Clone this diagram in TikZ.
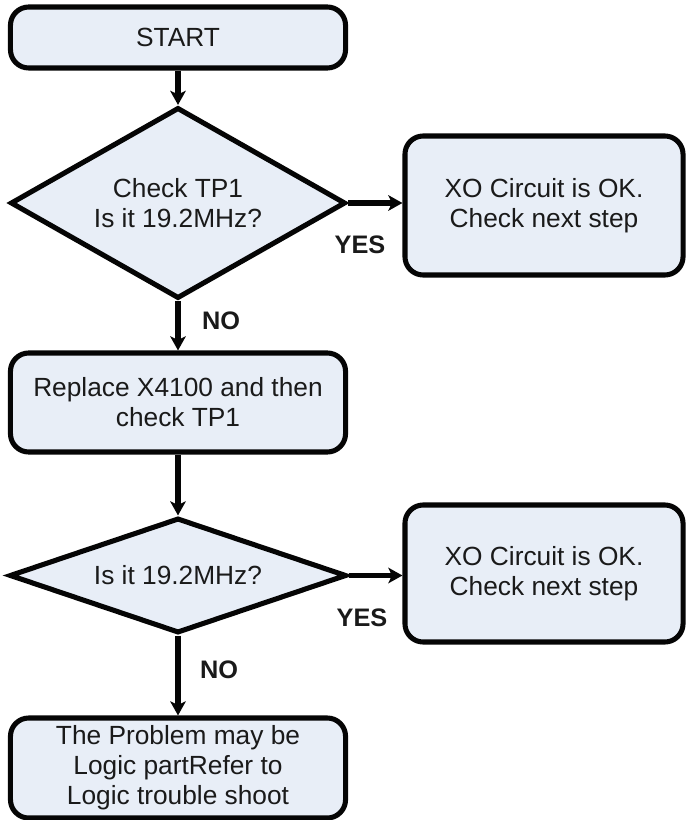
\documentclass[tikz,border=0pt]{standalone}
\usepackage{fontspec}
\setmainfont{Liberation Sans}
\usetikzlibrary{arrows.meta, shapes.geometric}
\definecolor{cFill}{HTML}{E8EEF7}
\definecolor{cLine}{HTML}{050505}
\definecolor{cText}{HTML}{1A1A1A}
\tikzset{
    box/.style  ={draw=cLine, fill=cFill, line width=3.6pt, rounded corners=13pt,
                  align=center, text=cText, inner sep=0pt,
                  font=\fontsize{18.7}{21.3}\selectfont},
    proc/.style ={box, minimum width=8.375cm},
    okbox/.style={box, minimum width=6.95cm},
    dec/.style  ={box, diamond, sharp corners},
    flow/.style ={-{Stealth[length=10pt, width=11pt, inset=2.5pt]},
                  line width=3.6pt, cLine},
    lbl/.style  ={font=\bfseries\fontsize{18}{21}\selectfont, text=cText,
                  inner sep=1pt},
}

\begin{document}
\begin{tikzpicture}[x=0.025cm, y=-0.025cm]
\useasboundingbox (0,0) rectangle (685,820);

% ===================== Left column =====================
\node[proc, minimum height=1.525cm] (start) at (178,37.5) {START};
\node[dec, minimum width=8.375cm, minimum height=4.775cm, shape aspect=1.75]
     (chk1) at (178,203) {Check TP1\\Is it 19.2MHz?};
\node[proc, minimum height=2.475cm] (repl) at (178,402.5)
     {Replace X4100 and then\\check TP1};
\node[dec, minimum width=8.425cm, minimum height=2.875cm, shape aspect=2.9]
     (chk2) at (178,575.5) {Is it 19.2MHz?};
\node[proc, minimum height=2.5cm] (prob) at (178,768)
     {The Problem may be\\Logic partRefer to\\Logic trouble shoot};

% ===================== Right column =====================
\node[okbox, minimum height=3.475cm] (ok1) at (544,205.5)
     {XO Circuit is OK.\\Check next step};
\node[okbox, minimum height=3.425cm] (ok2) at (544,573.5)
     {XO Circuit is OK.\\Check next step};

% ===================== Connectors =====================
\draw[flow] (start) -- (chk1);
\draw[flow] (chk1) -- (repl);
\draw[flow] (repl) -- (chk2);
\draw[flow] (chk2) -- (prob);
\draw[flow] (chk1.east) -- (chk1.east -| ok1.west);
\draw[flow] (chk2.east) -- (chk2.east -| ok2.west);

% ===================== Branch labels =====================
\node[lbl] (yes1) at (360,245) {YES};
\node[lbl] (no1)  at (221,321) {NO};
\node[lbl] (yes2) at (362,618) {YES};
\node[lbl] (no2)  at (219,670) {NO};

\end{tikzpicture}
\end{document}
